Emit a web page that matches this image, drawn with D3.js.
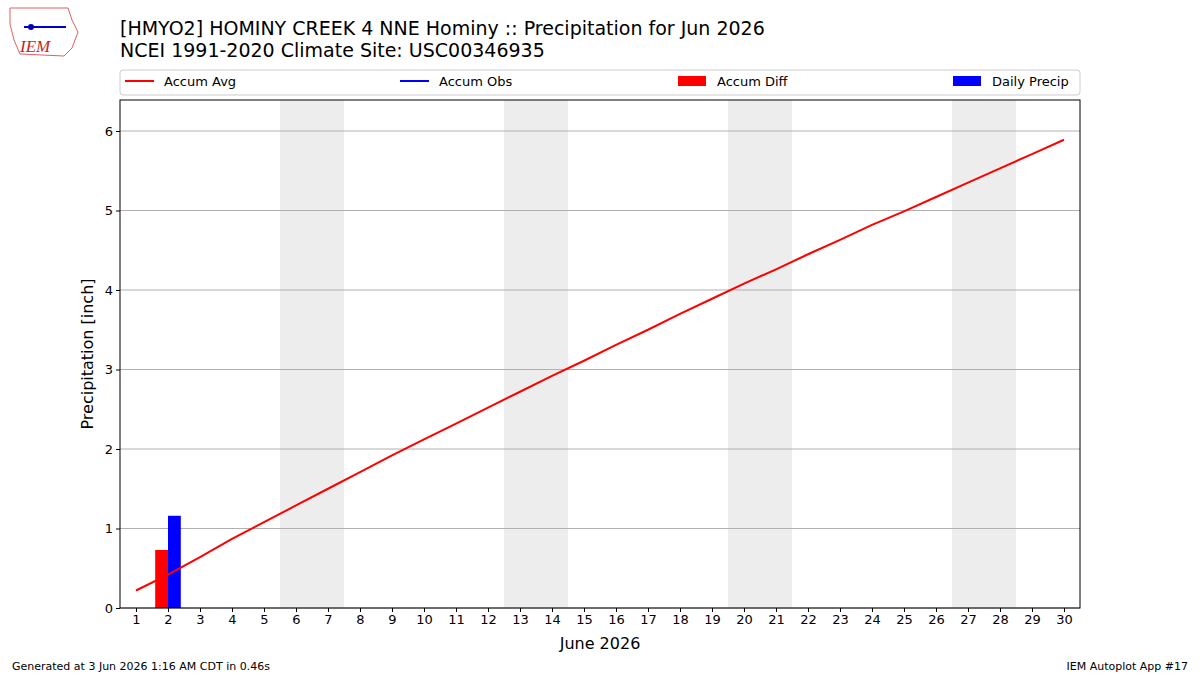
<!DOCTYPE html><html><head><meta charset="utf-8">
<script src="https://cdn.jsdelivr.net/npm/d3@7"></script>
<style>body{margin:0;background:#fff}text{font-family:"DejaVu Sans",sans-serif}</style></head><body>
<svg id="c" width="1200" height="675"></svg>
<script>
const days = d3.range(1,31);
const accumAvg = [0.22,0.42,0.64,0.87,1.08,1.29,1.50,1.71,1.92,2.12,2.32,2.52,2.72,2.92,3.11,3.31,3.50,3.70,3.89,4.08,4.26,4.45,4.63,4.82,4.99,5.17,5.35,5.53,5.71,5.89];
const diffDays = [2], diffVals = [0.73];
const precipDays = [2], precipVals = [1.16];
const weekends = [6,7,13,14,20,21,27,28];
const yTicks = [0,1,2,3,4,5,6];

const svg = d3.select("#c");
const L=120,R=1080,T=100,B=608;
const x = d3.scaleLinear().domain([0.5,30.5]).range([L,R]);
const y = d3.scaleLinear().domain([0,6.39]).range([B,T]);

svg.selectAll(".wk").data(weekends).enter().append("rect")
 .attr("x",d=>x(d-0.5)).attr("width",d=>x(d+0.5)-x(d-0.5)).attr("y",T).attr("height",B-T).attr("fill","#ededed");
svg.selectAll(".gl").data(yTicks).enter().append("line")
 .attr("x1",L).attr("x2",R).attr("y1",d=>y(d)).attr("y2",d=>y(d)).attr("stroke","#b0b0b0");
svg.selectAll(".bd").data(diffDays).enter().append("rect")
 .attr("x",d=>x(d-0.4)).attr("width",x(0.4)-x(0)).attr("y",(d,i)=>y(diffVals[i])).attr("height",(d,i)=>B-y(diffVals[i])).attr("fill","#ff0000");
svg.selectAll(".bp").data(precipDays).enter().append("rect")
 .attr("x",d=>x(d)).attr("width",x(0.4)-x(0)).attr("y",(d,i)=>y(precipVals[i])).attr("height",(d,i)=>B-y(precipVals[i])).attr("fill","#0000ff");
svg.append("path").datum(accumAvg).attr("fill","none").attr("stroke","#ff0000").attr("stroke-width",2)
 .attr("d",d3.line().x((d,i)=>x(days[i])).y(d=>y(d)));
svg.append("rect").attr("x",L).attr("y",T).attr("width",R-L).attr("height",B-T).attr("fill","none").attr("stroke","#000");

const xa = svg.append("g").attr("transform",`translate(0,${B})`).call(d3.axisBottom(x).tickValues(days).tickSize(4).tickFormat(d3.format("d")));
const ya = svg.append("g").attr("transform",`translate(${L},0)`).call(d3.axisLeft(y).tickValues(yTicks).tickSize(4).tickFormat(d3.format("d")));
[xa,ya].forEach(a=>{a.select(".domain").remove();a.selectAll("text").attr("font-size",13).attr("fill","#000").style("font-family","DejaVu Sans");});
svg.append("text").attr("x",600).attr("y",649).attr("text-anchor","middle").attr("font-size",16).text("June 2026");
svg.append("text").attr("transform","translate(93,354) rotate(-90)").attr("text-anchor","middle").attr("font-size",16).text("Precipitation [inch]");
svg.append("text").attr("x",120).attr("y",35).attr("font-size",19).text("[HMYO2] HOMINY CREEK 4 NNE Hominy :: Precipitation for Jun 2026");
svg.append("text").attr("x",120).attr("y",57).attr("font-size",19).text("NCEI 1991-2020 Climate Site: USC00346935");

svg.append("rect").attr("x",L).attr("y",70).attr("width",R-L).attr("height",25).attr("fill","#fff").attr("stroke","#ccc").attr("rx",3);
const leg=[{t:"Accum Avg",c:"#ff0000",k:"l",x:125},{t:"Accum Obs",c:"#0000ff",k:"l",x:400},{t:"Accum Diff",c:"#ff0000",k:"b",x:678},{t:"Daily Precip",c:"#0000ff",k:"b",x:953}];
leg.forEach(l=>{
 if(l.k=="l") svg.append("line").attr("x1",l.x).attr("x2",l.x+29).attr("y1",81).attr("y2",81).attr("stroke",l.c).attr("stroke-width",2);
 else svg.append("rect").attr("x",l.x).attr("y",76).attr("width",28).attr("height",10).attr("fill",l.c);
 svg.append("text").attr("x",l.x+39).attr("y",86).attr("font-size",13).text(l.t);
});
svg.append("text").attr("x",12).attr("y",670).attr("font-size",11).text("Generated at 3 Jun 2026 1:16 AM CDT in 0.46s");
svg.append("text").attr("x",1188).attr("y",670).attr("text-anchor","end").attr("font-size",11).text("IEM Autoplot App #17");
// logo
svg.append("path").attr("d","M10,8 L68,8 L72,20 L78,32 L72,48 L64,56 L20,54 L14,40 L10,24 Z").attr("fill","none").attr("stroke","#e06060");
svg.append("line").attr("x1",24).attr("x2",66).attr("y1",27).attr("y2",27).attr("stroke","#0000cc").attr("stroke-width",2);
svg.append("circle").attr("cx",31).attr("cy",27).attr("r",3).attr("fill","#0000cc");
svg.append("text").attr("x",20).attr("y",52).attr("font-size",17).attr("font-style","italic").attr("fill","#cc2222").style("font-family","Liberation Serif").text("IEM");
</script></body></html>
